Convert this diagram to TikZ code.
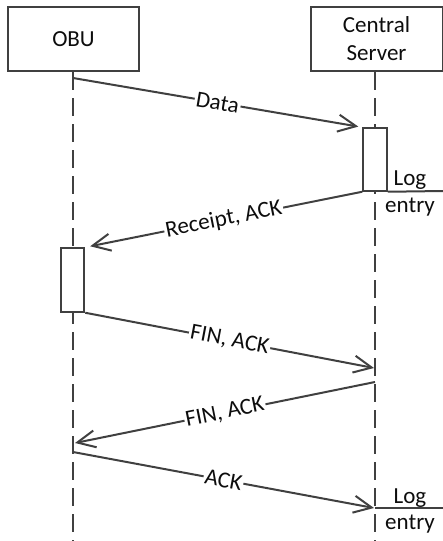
\documentclass[tikz,border=0pt]{standalone}
\usepackage{fontspec}
\setmainfont{Carlito}
\usetikzlibrary{arrows.meta}
\definecolor{ln}{HTML}{404040}
\definecolor{tx}{HTML}{0D0D0D}
\begin{document}
\begin{tikzpicture}[x=1pt,y=-1pt,
  every node/.style={text=tx,font=\fontsize{23}{28}\selectfont},
  actor/.style={draw=ln,line width=2pt,fill=white,minimum width=131pt,minimum height=64pt,align=center,inner sep=0pt},
  act/.style={draw=ln,line width=2pt,fill=white,minimum width=23.5pt,inner sep=0pt},
  life/.style={draw=ln,line width=1.8pt,dash pattern=on 18pt off 8pt},
  msg/.style={draw=ln,line width=2pt,-{Straight Barb[length=18pt,width=17pt,line width=2pt]}},
  lbl/.style={midway,sloped,fill=white,inner sep=1.5pt},
  logl/.style={draw=ln,line width=2pt}]
\useasboundingbox (0,0) rectangle (443,541);
% actors
\node[actor] (obu) at (73.5,39) {OBU};
\node[actor,minimum width=132pt] (srv) at (376.5,39) {Central\\Server};
% lifeline ends
\coordinate (obuend) at (73,541);
\coordinate (srvend) at (375,541);
\draw[life] (obu.south -| obuend) -- (obuend);
\draw[life] (srv.south -| srvend) -- (srvend);
% activations
\node[act,minimum height=62.5pt] (sa) at (375,159.5) {};
\node[act,minimum height=63.5pt] (oa) at (72.5,280) {};
% coordinates
\coordinate (d1) at (73,78);
\coordinate (f1e) at (374,368);
\coordinate (f2s) at (375,382);
\coordinate (f2e) at (75,443);
\coordinate (a1s) at (73,452);
\coordinate (a1e) at (374,508);
\coordinate (l1e) at (443,191);
\coordinate (l2s) at (375,508);
\coordinate (l2e) at (443,508);
% messages
\draw[msg,shorten >=4pt] (d1) -- (sa.north west) node[lbl] {Data};
\draw[msg,shorten >=5pt] (sa.south west) -- (oa.north east) node[lbl] {Receipt, ACK};
\draw[msg] (oa.south east) -- (f1e) node[lbl] {FIN, ACK};
\draw[msg] (f2s) -- (f2e) node[lbl] {FIN, ACK};
\draw[msg] (a1s) -- (a1e) node[lbl] {ACK};
% log entries
\draw[logl] (sa.south east) -- (l1e);
\node[anchor=base] (log1) at (410,185) {Log};
\node[anchor=base] (ent1) at (410,212) {entry};
\draw[logl] (l2s) -- (l2e);
\node[anchor=base] (log2) at (410,503) {Log};
\node[anchor=base] (ent2) at (410,529) {entry};
\end{tikzpicture}
\end{document}
